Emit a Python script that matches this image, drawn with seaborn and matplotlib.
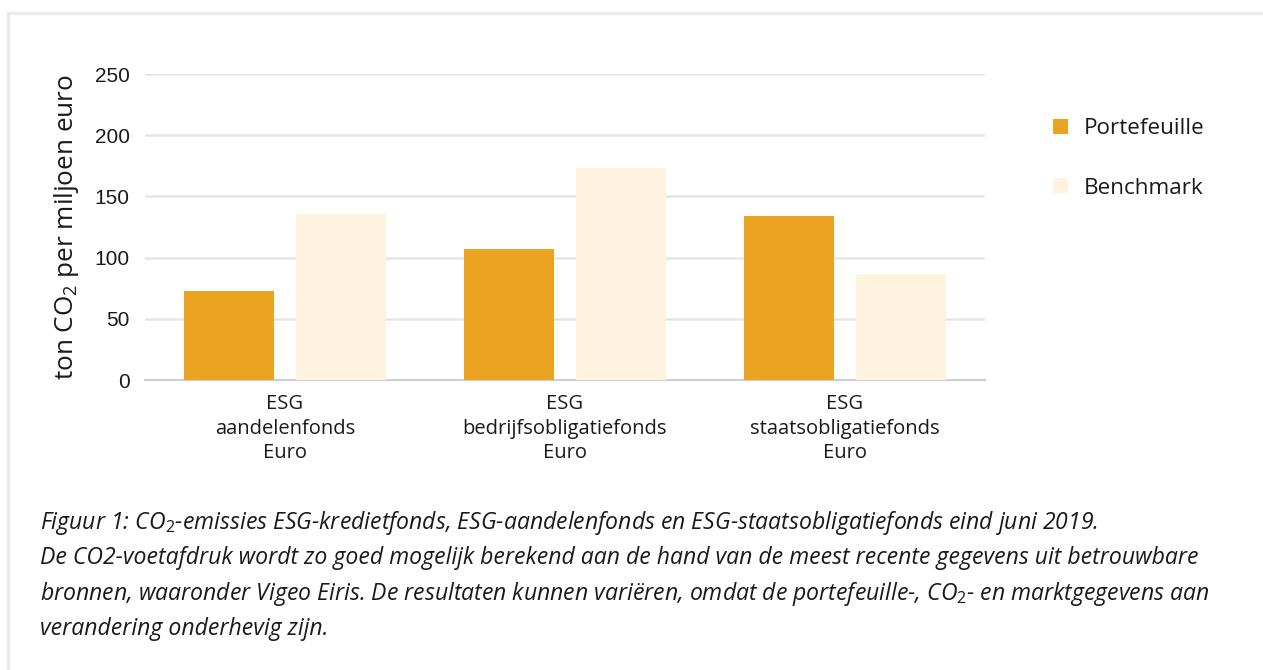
import pandas as pd
import numpy as np
import seaborn as sns
import matplotlib.pyplot as plt
from matplotlib.patches import Rectangle

fondsen = ['ESG\naandelenfonds\nEuro', 'ESG\nbedrijfsobligatiefonds\nEuro',
           'ESG\nstaatsobligatiefonds\nEuro']
portefeuille = [73, 107, 134]
benchmark = [136, 173, 87]
series = ['Portefeuille', 'Benchmark']
yticks = [0, 50, 100, 150, 200, 250]

df = pd.DataFrame({'Fonds': fondsen * 2,
                   'Reeks': [series[0]] * 3 + [series[1]] * 3,
                   'CO2': portefeuille + benchmark})

sns.set_style("white")
plt.rcParams['font.family'] = ['Open Sans', 'DejaVu Sans']
plt.rcParams['mathtext.fontset'] = 'custom'
plt.rcParams['mathtext.rm'] = 'Open Sans'
plt.rcParams['mathtext.it'] = 'Open Sans:italic'
txtcolor = '#1a1a1a'

fig = plt.figure(figsize=(12.63, 6.70), dpi=100)
# card with soft shadow
fig.patches.append(Rectangle((8 / 1263, -0.05), 1.1, 1 - 13 / 670 + 0.05,
                             transform=fig.transFigure, facecolor='white',
                             edgecolor='#ebebeb', lw=2.5, zorder=-10))
ax = fig.add_axes([145 / 1263, 1 - 380 / 670, 840 / 1263, 306 / 670])
ax.set_facecolor('none')
ax.set_zorder(2)

palette = ['#EBA421', '#FDF3DE']
sns.barplot(data=df, x='Fonds', y='CO2', hue='Reeks', palette=palette,
            width=0.8, gap=0.2, saturation=1, linewidth=0, ax=ax, zorder=3)

ax.set_ylim(0, 250)
ax.set_yticks(yticks)
ax.yaxis.grid(True, color='#e6e6e6', lw=1.8, zorder=0)
ax.set_axisbelow(True)
for s in ['top', 'right', 'left']:
    ax.spines[s].set_visible(False)
ax.spines['bottom'].set_color('#cfcfcf')
ax.spines['bottom'].set_linewidth(1.5)
ax.tick_params(axis='y', length=0, pad=11, labelsize=15, labelcolor=txtcolor)
ax.tick_params(axis='x', length=0, pad=10, labelsize=14.5, labelcolor=txtcolor)
for lab in ax.get_xticklabels():
    lab.set_linespacing(1.32)
for lab in ax.get_yticklabels():
    lab.set_family(['Liberation Sans', 'DejaVu Sans'])
ax.set_xlabel('')
ax.set_ylabel('ton CO$_2$ per miljoen euro', fontsize=18.8, color=txtcolor,
              labelpad=10)

ax.get_legend().remove()
handles, labels = ax.get_legend_handles_labels()
fig.legend(handles, labels, loc='upper left',
           bbox_to_anchor=(1042 / 1263, 1 - 107 / 670),
           frameon=False, fontsize=16.2, handlelength=0.65, handleheight=0.65,
           handletextpad=0.7, labelspacing=1.7, borderpad=0,
           labelcolor=txtcolor)

caption = ('Figuur 1: CO$_\\mathit{2}$-emissies ESG-kredietfonds, ESG-aandelenfonds en '
           'ESG-staatsobligatiefonds eind juni 2019.\n'
           'De CO2-voetafdruk wordt zo goed mogelijk berekend aan de hand van de meest '
           'recente gegevens uit betrouwbare\n'
           'bronnen, waaronder Vigeo Eiris. De resultaten kunnen variëren, omdat de '
           'portefeuille-, CO$_\\mathit{2}$- en marktgegevens aan\n'
           'verandering onderhevig zijn.')
fig.text(40 / 1263, 1 - 509 / 670, caption, fontsize=16.6, style='italic',
         color=txtcolor, va='top', ha='left', linespacing=1.5)

fig.savefig('out.png', dpi=100)
